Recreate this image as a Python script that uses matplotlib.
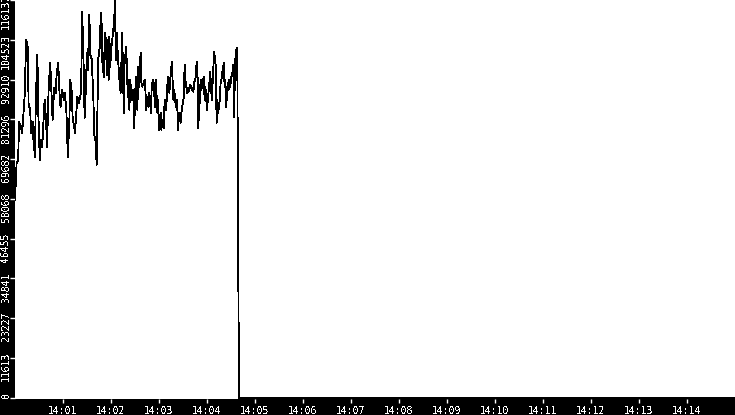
import datetime as dt
import matplotlib
matplotlib.use('Agg')
import matplotlib.pyplot as plt
import matplotlib.dates as mdates

plt.rcParams['font.family'] = ['DejaVu Sans Mono', 'DejaVu Sans']
plt.rcParams['text.antialiased'] = False

# seconds after 14:00:00 and the sampled value
seconds = [0, 2, 4, 5, 7, 9, 12, 14, 16, 17, 19, 20, 22, 23, 25, 26, 28, 29, 31, 32,
           34, 36, 37, 39, 40, 42, 44, 46, 47, 49, 51, 52, 54, 56, 57, 59, 61, 62, 64, 65,
           66, 68, 69, 71, 72, 75, 77, 78, 80, 82, 83, 84, 86, 87, 88, 90, 91, 93, 94, 96,
           98, 99, 101, 102, 104, 106, 107, 108, 109, 111, 112, 113, 115, 116, 117, 118, 119, 121, 122, 124,
           125, 126, 127, 129, 131, 132, 134, 136, 137, 139, 141, 142, 143, 144, 146, 148, 149, 151, 153, 154,
           155, 157, 158, 159, 161, 162, 163, 164, 166, 167, 168, 170, 171, 172, 173, 175, 176, 178, 179, 180,
           182, 183, 184, 186, 187, 189, 191, 192, 193, 194, 196, 197, 198, 199, 201, 202, 203, 204, 205, 207,
           208, 209, 211, 212, 213, 215, 216, 217, 219, 221, 222, 223, 224, 226, 227, 228, 229, 231, 232, 233,
           234, 236, 237, 238, 240, 241, 243, 244, 246, 247, 248, 249, 251, 252, 253, 254, 256, 257, 258, 259,
           261, 262, 263, 264, 266, 267, 268, 269, 271, 272, 273, 274, 275, 277, 278, 279, 280, 900]
values = [57816, 68328, 69496, 80592, 79424, 77380, 87892, 104536, 102200, 85556,
          84096, 77380, 80592, 75336, 70372, 87016, 100156, 84096, 69496, 75336,
          73292, 82636, 87016, 80300, 73292, 89936, 97820, 87016, 81176, 90520,
          89060, 94316, 97820, 87016, 84972, 89936, 87016, 89060, 84972, 78256,
          70372, 81176, 92856, 89060, 82052, 77380, 84096, 87892, 86140, 88476,
          95776, 112712, 94900, 81760, 87016, 100740, 95776, 111836, 100156, 98696,
          87016, 76796, 74460, 68036, 98696, 102492, 110376, 112420, 98696, 93732,
          103076, 106580, 94316, 104536, 92856, 105412, 96652, 103660, 105412, 110376,
          116137, 98696, 106580, 98112, 91396, 89060, 106580, 83220, 97820, 102492,
          87892, 92856, 84096, 92856, 87016, 89936, 78840, 93732, 84096, 96652,
          90812, 100740, 91980, 90812, 91980, 92856, 89936, 84096, 87892, 84972,
          89060, 83220, 91980, 89936, 92856, 84972, 92856, 83220, 87016, 78256,
          83220, 78256, 81176, 78840, 87016, 84096, 93732, 90812, 89060, 92856,
          98112, 92856, 87016, 89936, 84972, 87016, 84096, 78256, 83220, 80300,
          83220, 84972, 87892, 97236, 92856, 89060, 90520, 89352, 91396, 89936,
          90520, 89352, 91980, 93732, 98112, 97820, 78840, 87016, 92856, 89936,
          91980, 93732, 87016, 90812, 84096, 87016, 91980, 95192, 87016, 91980,
          96652, 101032, 96652, 80300, 87016, 83220, 87016, 91980, 92856, 94900,
          97820, 90812, 92856, 84972, 91980, 89936, 92856, 90812, 94900, 94024,
          97236, 82052, 97820, 102200, 93732, 42632, 0, 0]

ytick_values = [0, 11613, 23227, 34841, 46455, 58068, 69682, 81296, 92910, 104523, 116137]
ytick_labels = ['0', '11613', '23227', '34841', '46455', '58068', '69682', '81296', '92910', '104523', '116137']

start = dt.datetime(2024, 1, 1, 14, 0, 0)
end = dt.datetime(2024, 1, 1, 14, 15, 0)
times = [start + dt.timedelta(seconds=s) for s in seconds]

fig = plt.figure(figsize=(7.35, 4.15), dpi=100, facecolor='black')
ax = fig.add_axes([15 / 735, 16 / 415, 720 / 735, 399 / 415])
ax.set_facecolor('white')

ax.plot(times, values, color='black', lw=0.6, antialiased=False)

ax.set_xlim(start, end)
ax.set_ylim(-400, 116137)

ax.xaxis.set_major_locator(mdates.MinuteLocator(byminute=range(1, 15)))
ax.xaxis.set_major_formatter(mdates.DateFormatter('%H:%M'))
ax.tick_params(axis='x', colors='white', length=3, width=1, pad=2, labelsize=7)

ax.set_yticks(ytick_values)
ax.tick_params(axis='y', colors='white', length=3.5, width=1, labelleft=False)
for v, s in zip(ytick_values, ytick_labels):
    ax.annotate(s, xy=(0, v), xycoords=('axes fraction', 'data'),
                xytext=(-9, 6), textcoords='offset pixels',
                rotation=90, ha='center', va='top', color='white',
                fontsize=7, annotation_clip=False)

for side in ['top', 'right', 'left', 'bottom']:
    ax.spines[side].set_visible(False)

plt.savefig('out.png', dpi=100, facecolor='black')
